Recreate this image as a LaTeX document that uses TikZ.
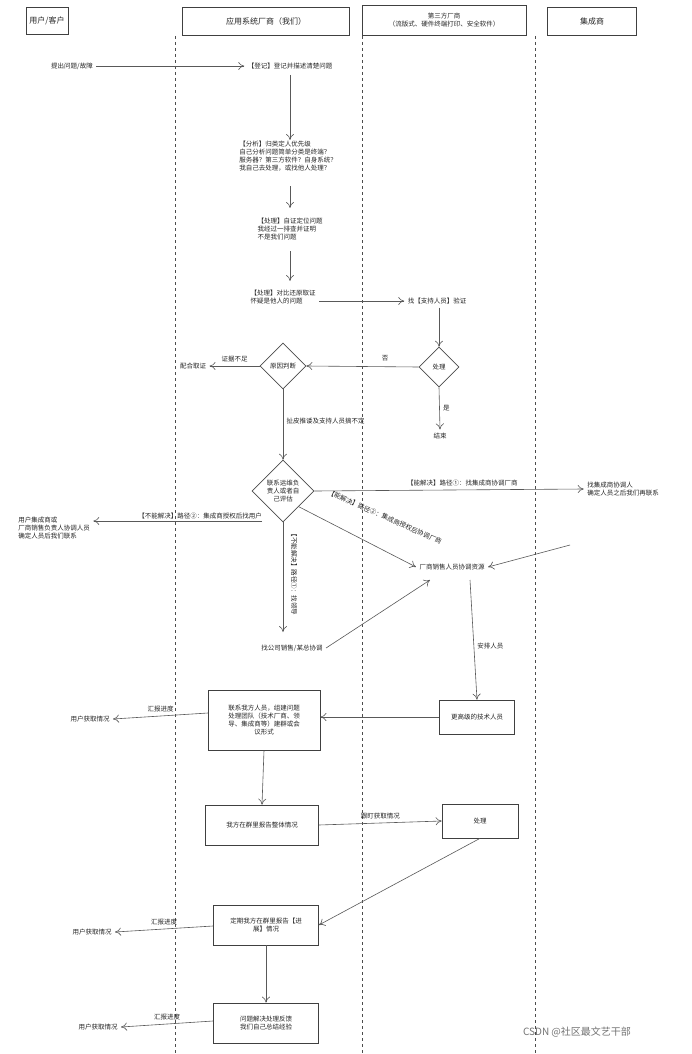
\documentclass[tikz,border=0pt]{standalone}
\usepackage{fontspec}
\setmainfont{Noto Sans CJK SC}
\usetikzlibrary{shapes.geometric,arrows.meta}
\begin{document}
\begin{tikzpicture}[x=1pt,y=-1pt,
  every node/.style={font=\fontsize{6.5}{8}\selectfont,text=black!85},
  ar/.style={draw=black!65,line width=0.6pt,-{To[length=6pt,width=8pt]}},
  bx/.style={draw=black!75,line width=0.7pt,align=center,inner sep=2pt},
  hd/.style={draw=black!75,line width=0.7pt,align=center,font=\fontsize{8}{9}\selectfont},
  dia/.style={diamond,draw=black!70,line width=0.6pt,aspect=1,inner sep=0pt,align=center},
  lane/.style={draw=black!70,dashed,line width=0.5pt},
  tx/.style={align=left}]
\useasboundingbox (0,0) rectangle (692,1054);
\fill[white] (0,0) rectangle (692,1054);
% headers
\node[hd,minimum width=42,minimum height=27] (h1) at (47,21) {用户/客户};
\node[hd,minimum width=167,minimum height=28] (h2) at (266,21) {应用系统厂商（我们）};
\node[hd,minimum width=164,minimum height=30,font=\fontsize{6.5}{8}\selectfont] (h3) at (444,20) {第三方厂商\\（流版式、硬件终端打印、安全软件）};
\node[hd,minimum width=89,minimum height=28] (h4) at (592,21) {集成商};
\coordinate (l1a) at (175,36); \coordinate (l1b) at (175,1054);
\coordinate (l2a) at (362,36); \coordinate (l2b) at (362,1054);
\coordinate (l3a) at (535,36); \coordinate (l3b) at (535,1054);
\draw[lane] (l1a)--(l1b); \draw[lane] (l2a)--(l2b); \draw[lane] (l3a)--(l3b);
% nodes
\node (a) at (72,66) {提出问题/故障};
\node (b) at (290,66) {【登记】登记并描述清楚问题};
\node[tx] (c) at (288,156) {【分析】归类定人优先级\\自己分析问题简单分类是终端？\\服务器？第三方软件？自身系统？\\我自己去处理，或找他人处理？};
\node[tx] (d) at (290,229) {【处理】自证定位问题\\我经过一排查并证明\\不是我们问题};
\node[tx] (e) at (283,297) {【处理】对比还原取证\\怀疑是他人的问题};
\node (f) at (437,301) {找【支持人员】验证};
\node[dia,minimum size=40] (g) at (439,367) {处理};
\node (end) at (440,436) {结束};
\node[dia,minimum size=46] (r) at (283,366) {原因判断};
\node (pz) at (193,366) {配合取证};
\node[dia,minimum size=62] (k) at (283,491) {联系运维负\\责人或者自\\己评估};
\node[tx] (jc) at (623,489) {找集成商协调人\\确定人员之后我们再联系};
\node[tx] (yh) at (54,528) {用户集成商或\\厂商销售负责人协调人员\\确定人员后我们联系};
\node (xs) at (452,567) {厂商销售人员协调资源};
\node (ld) at (292,648) {找公司销售/某总协调};
\node[bx,minimum width=75,minimum height=34] (gj) at (477,717) {更高级的技术人员};
\node[bx,minimum width=112,minimum height=60] (lx) at (264,720) {联系我方人员，组建问题\\处理团队（技术厂商、领\\导、集成商等）建群或会\\议形式};
\node (u1) at (90,719) {用户获取情况};
\node[bx,minimum width=113,minimum height=40] (qb) at (262,825) {我方在群里报告整体情况};
\node[bx,minimum width=76,minimum height=34] (cl) at (480,821) {处理};
\node[bx,minimum width=105,minimum height=40] (dq) at (266,925) {定期我方在群里报告【进\\展】情况};
\node (u2) at (92,932) {用户获取情况};
\node[bx,minimum width=105,minimum height=40] (wt) at (266,1023) {问题解决处理反馈\\我们自己总结经验};
\node (u3) at (98,1027) {用户获取情况};
\node[font=\fontsize{10}{12}\selectfont,text=black!55] (wm) at (577,1032) {CSDN @社区最文艺干部};
% connectors
\draw[ar] (a) -- (b);
\draw[ar] (290,75) -- (290,140);
\draw[ar] (290,186) -- (290,208);
\draw[ar] (290,251) -- (290,281);
\draw[ar] (e.east|-f) -- (f);
\draw[ar] (f.south-|g) -- (g.north);
\draw[ar] (g.west) -- (r.east);
\node at (385,358) {否};
\draw[ar] (r.west) -- node[above]{证据不足} (pz.east);
\draw[ar] (g.south) -- node[right,pos=0.5]{是} (end.north);
\draw[ar] (r.south) -- node[right,pos=0.45]{扯皮推诿及支持人员搞不定} (k.north);
\draw[ar] (k.east) -- node[above,pos=0.55]{【能解决】路径①：找集成商协调厂商} (jc.west);
\coordinate (jcs) at (570,545);
\draw[ar] (jcs) -- (xs.east);
\coordinate (kl) at (262,521);
\draw[ar] (kl) -- (yh.east|-kl);
\node at (200,516) {【不能解决】路径②：集成商授权后找用户};
\draw[ar] (k.south east) -- (xs.west);
\node[rotate=-24] at (385,517) {【能解决】路径②：集成商授权后协调厂商};
\draw[ar] (k.south) -- (283,632);
\node[rotate=-90] at (294,573) {【不能解决】路径①：找领导};
\draw[ar] (ld.east) -- (430,580);
\draw[ar] (470,580) -- node[right,pos=0.55]{安排人员} (gj.north);
\draw[ar] (gj.west) -- (lx.east|-gj.west);
\coordinate (lw) at (208,713);
\draw[ar] (lw) -- node[above]{汇报进度} (u1.east);
\draw[ar] (lx.south) -- (qb.north);
\draw[ar] (qb.east) -- node[above,pos=0.5]{跟盯获取情况} (cl.west);
\draw[ar] (cl.south) -- (dq.east);
\coordinate (dw) at (213,926);
\draw[ar] (dw) -- node[above]{汇报进度} (u2.east);
\draw[ar] (dq.south) -- (wt.north);
\coordinate (ww) at (213,1021);
\draw[ar] (ww) -- node[above]{汇报进度} (u3.east);
\end{tikzpicture}
\end{document}
